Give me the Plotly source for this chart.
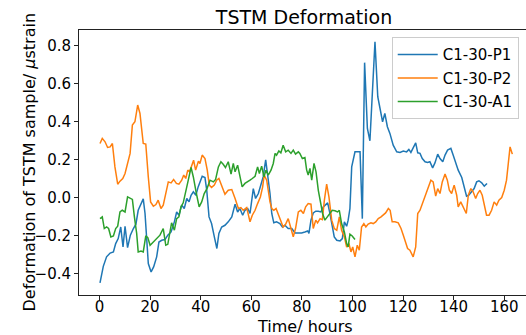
import plotly.graph_objects as go

# ---------------- data ----------------
p1_hours = [0.2, 1.5, 2.8, 4.2, 5.5, 6.4, 7.4, 8.4, 9.3, 10.1, 11.1, 12.2, 13.4, 14.4, 15.3, 16.3, 17.3, 18.0, 18.7, 19.3,
            20.4, 21.4, 22.6, 23.5, 24.6, 25.9, 27.0, 28.3, 29.6, 30.5, 31.4, 32.5, 33.5, 34.5, 35.4, 36.2, 37.1, 38.1, 39.0,
            40.6, 41.7, 42.4, 43.3, 44.3, 45.4, 46.4, 47.2, 48.3, 49.6, 50.9, 52.3, 53.6, 54.6, 55.5, 56.6, 57.5, 58.6,
            59.5, 60.8, 61.7, 62.8, 63.8, 64.7, 65.7, 66.5, 67.4, 68.1, 68.9, 70.0, 71.3, 72.3, 73.3, 74.6, 76.0, 77.3,
            78.6, 79.9, 81.2, 82.3, 82.8, 83.6, 84.5, 85.5, 86.5, 87.5, 88.5, 89.4, 90.2, 91.1, 92.0, 92.8, 93.8, 95.1,
            96.0, 96.8, 97.7, 98.3, 99.0, 99.7, 101.0, 102.3, 103.0, 103.9, 104.8, 105.9, 106.9, 108.9, 110.0, 110.9,
            111.9, 112.8, 113.8, 114.8, 116.1, 117.5, 118.8, 120.1, 121.4, 122.3, 123.1, 124.0, 125.0, 125.8, 126.7,
            127.6, 128.7, 129.7, 130.6, 131.7, 132.6, 133.7, 134.6, 135.7, 136.6, 137.6, 138.9, 139.8, 140.8, 141.8,
            143.2, 144.2, 145.1, 146.0, 147.1, 148.1, 149.1, 150.0, 151.1, 152.1, 153.2]
p1_values = [-0.447, -0.36, -0.31, -0.29, -0.284, -0.24, -0.214, -0.153, -0.258, -0.149, -0.261, -0.196, -0.161, -0.138,
             -0.065, -0.03, -0.005, -0.082, -0.223, -0.345, -0.389, -0.363, -0.31, -0.232, -0.223, -0.219, -0.196, -0.179,
             -0.126, -0.074, -0.091, -0.038, -0.056, -0.003, -0.021, 0.014, 0.032, 0.014, 0.058, 0.114, 0.107, 0.04, -0.1,
             -0.135, -0.205, -0.266, -0.187, -0.153, -0.144, -0.126, -0.1, -0.033, -0.074, -0.056, -0.091, -0.065, -0.056,
             -0.082, 0.049, -0.003, 0.023, 0.067, 0.11, 0.2, 0.12, 0.023, -0.082, -0.131, -0.126, -0.135, -0.153, -0.144,
             -0.161, -0.161, -0.184, -0.184, -0.184, -0.179, -0.174, -0.187, -0.117, -0.079, -0.07, -0.07, -0.074, -0.047,
             -0.033, -0.026, -0.082, -0.153, -0.205, -0.223, -0.226, -0.214, -0.126, -0.149, -0.117, -0.056, 0.163, 0.242,
             0.242, 0.242, -0.109, 0.711, 0.365, 0.3, 0.821, 0.532, 0.47, 0.4, 0.444, 0.374, 0.339, 0.277, 0.242, 0.239,
             0.246, 0.242, 0.255, 0.239, 0.263, 0.289, 0.237, 0.234, 0.207, 0.19, 0.186, 0.19, 0.158, 0.184, 0.23, 0.207,
             0.19, 0.225, 0.251, 0.26, 0.225, 0.181, 0.146, 0.107, 0.062, 0.009, 0.014, 0.032, 0.049, 0.084, 0.09, 0.079,
             0.062, 0.076]

p2_hours = [0.2, 1.1, 2.2, 3.2, 4.2, 5.1, 6.1, 7.2, 8.1, 9.2, 10.1, 11.1, 12.1, 13.0, 14.0, 15.1, 16.0, 17.3, 18.3, 19.3,
            20.2, 21.3, 22.3, 23.2, 24.3, 25.2, 26.2, 27.2, 28.3, 29.3, 30.4, 31.4, 32.5, 33.3, 34.1, 34.9, 35.6, 36.4,
            37.2, 38.0, 39.1, 39.7, 40.6, 41.7, 42.6, 43.4, 44.3, 45.4, 46.3, 47.2, 48.3, 49.6, 50.9, 52.3, 53.6, 54.9,
            55.9, 56.8, 58.2, 59.5, 60.4, 61.5, 62.5, 63.6, 64.5, 65.1, 66.1, 66.7, 67.4, 68.1, 68.9, 69.8, 70.7, 71.7,
            72.6, 73.6, 74.6, 75.7, 76.6, 77.5, 78.6, 79.6, 80.6, 81.5, 82.5, 83.6, 84.5, 85.5, 86.2, 87.2, 88.1, 88.9,
            89.8, 90.7, 91.8, 92.8, 93.8, 94.8, 95.7, 96.8, 97.7, 98.6, 99.4, 100.1, 101.0, 101.9, 102.7, 103.6, 104.5,
            105.3, 106.2, 107.3, 108.2, 109.2, 110.2, 111.3, 112.2, 113.1, 114.2, 114.9, 115.7, 116.8, 118.1, 119.2,
            120.1, 121.0, 121.8, 122.7, 124.0, 125.0, 125.8, 126.7, 127.6, 128.7, 129.6, 131.0, 131.9, 132.9, 133.7,
            134.6, 135.5, 136.6, 137.5, 138.3, 139.2, 140.2, 141.2, 141.8, 142.8, 143.6, 145.0, 145.8, 146.8, 147.7,
            148.7, 149.5, 150.4, 151.3, 152.1, 153.0, 154.0, 155.0, 156.0, 157.0, 157.9, 159.0, 160.0, 160.9, 161.6,
            162.3, 163.2]
p2_values = [0.286, 0.313, 0.295, 0.265, 0.268, 0.286, 0.163, 0.072, 0.088, 0.102, 0.128, 0.181, 0.234, 0.383, 0.4, 0.488,
             0.444, 0.286, 0.283, 0.11, -0.021, -0.044, -0.035, -0.012, -0.056, -0.038, 0.023, 0.084, 0.079, 0.097, 0.076,
             0.072, 0.093, 0.12, 0.102, 0.146, 0.137, 0.163, 0.198, 0.146, 0.193, 0.181, 0.225, 0.207, 0.146, 0.067, 0.055,
             0.067, 0.093, 0.102, 0.067, 0.019, 0.04, 0.044, -0.003, -0.056, -0.051, -0.065, -0.051, -0.126, -0.091, -0.065,
             -0.03, 0.005, 0.058, 0.12, 0.093, 0.04, -0.021, -0.056, -0.065, -0.056, -0.091, -0.126, -0.153, -0.138, -0.109,
             -0.161, -0.205, -0.161, -0.074, -0.065, -0.082, -0.047, -0.03, -0.033, -0.161, -0.117, -0.131, -0.109, -0.114,
             -0.012, 0.072, 0.005, -0.117, -0.161, -0.17, -0.1, -0.17, -0.205, -0.258, -0.24, -0.284, -0.258, -0.31, -0.249,
             -0.275, -0.153, -0.135, -0.153, -0.138, -0.131, -0.135, -0.126, -0.109, -0.1, -0.091, -0.079, -0.056, -0.065,
             -0.126, -0.126, -0.131, -0.161, -0.196, -0.24, -0.266, -0.275, -0.31, -0.258, -0.082, -0.065, -0.03, 0.014,
             0.04, 0.093, 0.084, 0.009, 0.049, 0.023, 0.084, 0.125, 0.093, 0.04, 0.023, 0.067, 0.014, -0.047, -0.021, -0.047,
             -0.082, 0.014, 0.049, 0.032, -0.003, 0.023, 0.04, 0.014, -0.03, -0.091, -0.091, -0.065, -0.021, -0.038, -0.012,
             0.002, 0.04, 0.093, 0.181, 0.268, 0.23]

a1_hours = [0.2, 1.1, 1.9, 2.8, 3.6, 4.5, 5.5, 6.4, 7.2, 8.1, 9.0, 10.1, 11.1, 12.1, 13.0, 13.8, 14.7, 15.3, 16.4, 17.3,
            18.3, 19.1, 20.0, 20.9, 21.9, 23.0, 23.9, 25.2, 26.2, 27.0, 27.9, 28.5, 29.6, 30.5, 31.4, 32.2, 33.1, 34.1,
            35.1, 36.2, 37.1, 38.3, 39.4, 40.4, 41.4, 42.5, 43.7, 45.0, 45.9, 47.0, 48.0, 48.9, 49.8, 50.9, 52.0, 52.9,
            53.6, 54.6, 55.5, 56.4, 57.5, 58.6, 59.5, 60.4, 61.5, 62.5, 63.2, 64.1, 65.0, 65.8, 66.7, 67.8, 68.7, 69.4,
            70.0, 70.9, 71.7, 72.6, 73.6, 74.6, 75.7, 76.6, 77.5, 78.6, 79.2, 80.2, 81.2, 81.9, 82.5, 83.2, 83.9, 84.8,
            85.6, 86.5, 87.4, 88.2, 89.1, 90.0, 91.1, 92.0, 93.1, 94.1, 94.8, 95.7, 96.8, 97.7, 98.3, 99.0, 99.9, 101.0]
a1_values = [-0.109, -0.1, -0.161, -0.153, -0.161, -0.205, -0.2, -0.161, -0.149, -0.074, -0.065, -0.074, 0.005, -0.003,
             -0.008, -0.1, -0.187, -0.284, -0.279, -0.284, -0.2, -0.209, -0.249, -0.237, -0.223, -0.21, -0.196, -0.161,
             -0.249, -0.244, -0.179, -0.131, -0.17, -0.109, -0.1, -0.047, -0.026, 0.044, 0.093, 0.16, 0.11, 0.023, -0.047,
             -0.021, 0.023, 0.049, 0.093, 0.084, 0.097, 0.163, 0.19, 0.177, 0.16, 0.19, 0.125, 0.181, 0.137, 0.172, 0.12,
             0.058, 0.076, 0.084, 0.093, 0.102, 0.114, 0.163, 0.128, 0.167, 0.11, 0.146, 0.12, 0.146, 0.181, 0.234, 0.225,
             0.247, 0.237, 0.277, 0.242, 0.251, 0.234, 0.251, 0.23, 0.242, 0.234, 0.207, 0.212, 0.146, 0.12, 0.155, 0.093,
             0.181, 0.137, 0.04, -0.03, -0.082, -0.117, -0.1, -0.079, -0.065, -0.068, -0.074, -0.065, -0.135, -0.179,
             -0.24, -0.258, -0.191, -0.2, -0.219]

series_names = ["C1-30-P1", "C1-30-P2", "C1-30-A1"]
series_colors = ["#1f77b4", "#ff7f0e", "#2ca02c"]
x_ticks = [0, 20, 40, 60, 80, 100, 120, 140, 160]
y_ticks = [-0.4, -0.2, 0.0, 0.2, 0.4, 0.6, 0.8]
y_tick_labels = ["\u22120.4", "\u22120.2", "0.0", "0.2", "0.4", "0.6", "0.8"]
x_title = "Time/ hours"
y_title = "Deformation of TSTM sample/ <i>\u03bc</i>strain"

FONT = "DejaVu Sans"

fig = go.Figure()
for i, (hx, vy) in enumerate([(p1_hours, p1_values), (p2_hours, p2_values), (a1_hours, a1_values)]):
    fig.add_trace(go.Scatter(x=hx, y=vy, mode="lines", name=series_names[i],
                             legendgroup=f"g{i}",
                             line=dict(color=series_colors[i], width=1.5)))

fig.update_layout(
    width=526, height=335,
    margin=dict(l=79, r=0, t=30, b=40, autoexpand=False),
    paper_bgcolor="white", plot_bgcolor="white",
    font=dict(family=FONT, color="black", size=15),
    title=dict(text="TSTM Deformation", font=dict(size=19, family=FONT),
               x=(304 / 526), xanchor="center", y=1 - 17 / 335, yanchor="middle"),
    showlegend=True,
    legend=dict(x=0.6996, y=0.9724, xanchor="left", yanchor="top",
                bgcolor="rgba(255,255,255,0.85)", bordercolor="#cccccc", borderwidth=1,
                font=dict(size=15, family=FONT), tracegroupgap=1, itemwidth=40),
    annotations=[
        dict(text=x_title, xref="paper", yref="paper", x=(305 - 79) / 447, y=-(326 - 294.7) / 264.7,
             xanchor="center", yanchor="middle", showarrow=False, font=dict(size=16, family=FONT)),
        dict(text=y_title, xref="paper", yref="paper", x=-(79 - 29) / 447, y=0.5, textangle=-90,
             xanchor="center", yanchor="middle", showarrow=False, font=dict(size=16, family=FONT)),
    ],
)
fig.update_xaxes(range=[-8.1, 168.6], tickvals=x_ticks, ticks="outside", ticklen=4, tickwidth=1,
                 tickcolor="#222", showline=True, linecolor="#222", linewidth=1, mirror=True,
                 showgrid=False, zeroline=False, automargin=False, ticklabelstandoff=-6,
                 tickfont=dict(size=15, family=FONT))
fig.update_yaxes(range=[-0.5105, 0.8826], tickvals=y_ticks, ticktext=y_tick_labels, ticks="outside", ticklen=4,
                 tickwidth=1, tickcolor="#222", showline=True, linecolor="#222", linewidth=1, mirror=False,
                 showgrid=False, zeroline=False, automargin=False,
                 tickfont=dict(size=15, family=FONT))

fig.write_html("out.html", config={"displayModeBar": False},
               post_script="document.body.style.margin='0px';document.body.style.overflow='hidden';")
